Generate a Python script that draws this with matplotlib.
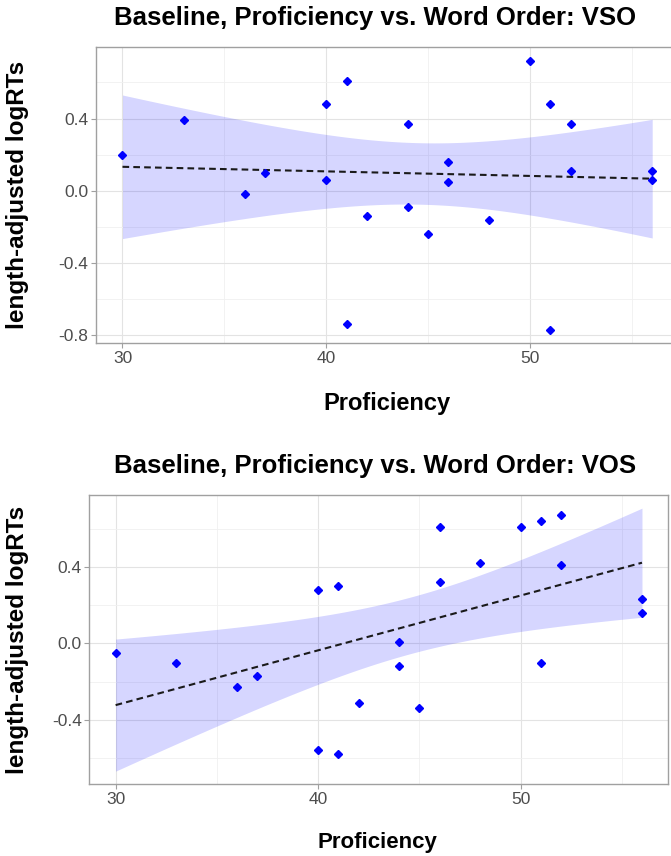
import numpy as np
import matplotlib
matplotlib.use("Agg")
import matplotlib.pyplot as plt
from matplotlib.ticker import MultipleLocator, FormatStrFormatter

plt.rcParams['font.family'] = ['Liberation Sans', 'DejaVu Sans']
plt.rcParams['axes.unicode_minus'] = False

# proficiency scores (same participants in both panels)
proficiency = [30, 33, 36, 37, 40, 40, 41, 41, 42, 44, 44,
               45, 46, 46, 48, 50, 51, 51, 52, 52, 56, 56]

# length-adjusted logRTs, word order VSO
rt_vso = [0.20, 0.39, -0.02, 0.10, 0.48, 0.06, 0.61, -0.74, -0.14, 0.37, -0.09,
          -0.24, 0.16, 0.05, -0.16, 0.72, 0.48, -0.77, 0.37, 0.11, 0.11, 0.06]

# length-adjusted logRTs, word order VOS
rt_vos = [-0.05, -0.10, -0.23, -0.17, 0.28, -0.56, 0.30, -0.58, -0.31, 0.01, -0.12,
          -0.34, 0.61, 0.32, 0.42, 0.61, 0.64, -0.10, 0.67, 0.41, 0.23, 0.16]

titles = ['Baseline, Proficiency vs. Word Order: VSO',
          'Baseline, Proficiency vs. Word Order: VOS']

T_975 = 2.086  # t quantile, df = 20


def lm_band(x, y, xs):
    x = np.asarray(x, float)
    y = np.asarray(y, float)
    n = len(x)
    b1, b0 = np.polyfit(x, y, 1)
    s = np.sqrt(np.sum((y - (b0 + b1 * x)) ** 2) / (n - 2))
    se = s * np.sqrt(1 / n + (xs - x.mean()) ** 2 / np.sum((x - x.mean()) ** 2))
    fit = b0 + b1 * xs
    return fit, fit - T_975 * se, fit + T_975 * se


W, H = 671, 856
fig = plt.figure(figsize=(W / 100, H / 100), dpi=100)

# axes boxes in pixels: left, top, right, bottom
boxes = [(96, 47.3, 678.7, 343.3), (89.3, 495, 668.3, 784.3)]
title_y = [25, 473]
xlab = [(386.7, 410, 17), (377.5, 848, 16)]

for i, rts in enumerate([rt_vso, rt_vos]):
    l, t, r, b = boxes[i]
    ax = fig.add_axes([l / W, 1 - b / H, (r - l) / W, (b - t) / H])
    xs = np.linspace(min(proficiency), max(proficiency), 100)
    fit, lo, hi = lm_band(proficiency, rts, xs)
    ax.fill_between(xs, lo, hi, color='blue', alpha=0.16, lw=0, zorder=2)
    ax.plot(xs, fit, color='#1a1a1a', lw=1.5, ls=(0, (3.2, 2.0)), zorder=3)
    ax.plot(proficiency, rts, 'D', color='blue', ms=4.0, zorder=4)

    ax.margins(0.05)
    ax.xaxis.set_major_locator(MultipleLocator(10))
    ax.xaxis.set_minor_locator(MultipleLocator(5))
    ax.yaxis.set_major_locator(MultipleLocator(0.4))
    ax.yaxis.set_minor_locator(MultipleLocator(0.2))
    ax.yaxis.set_major_formatter(FormatStrFormatter('%.1f'))
    ax.grid(which='major', color='#E3E3E3', lw=0.8, zorder=0)
    ax.grid(which='minor', color='#F0F0F0', lw=0.6, zorder=0)
    ax.set_axisbelow(True)
    for sp in ax.spines.values():
        sp.set_color('#A0A0A0')
        sp.set_linewidth(1.0)
    ax.tick_params(which='major', length=3.5, width=0.8, color='#A0A0A0',
                   labelsize=12.5, labelcolor='#4D4D4D', pad=2)
    ax.tick_params(which='minor', length=0)

    fig.text(375 / W, 1 - title_y[i] / H, titles[i],
             ha='center', va='baseline', fontsize=18.5, fontweight='bold')
    fig.text(xlab[i][0] / W, 1 - xlab[i][1] / H, 'Proficiency',
             ha='center', va='baseline', fontsize=xlab[i][2], fontweight='bold')
    fig.text(18 / W, 1 - (t + b) / 2 / H, 'length-adjusted logRTs', rotation=90,
             ha='center', va='center', fontsize=17.5, fontweight='bold')

fig.savefig('out.png', dpi=100)
